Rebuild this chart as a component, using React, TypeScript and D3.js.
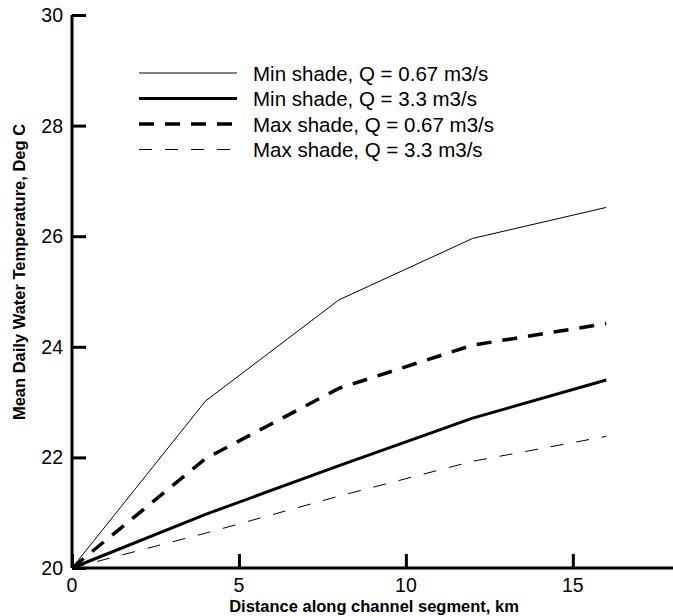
import { useEffect, useRef } from "react"
import * as d3 from "d3"

const distance = [0, 4, 8, 12, 16]
const minShadeLow = [20, 23.02, 24.85, 25.96, 26.52]
const minShadeHigh = [20, 20.97, 21.85, 22.71, 23.4]
const maxShadeLow = [20, 21.98, 23.25, 24.03, 24.42]
const maxShadeHigh = [20, 20.63, 21.3, 21.93, 22.38]
const seriesNames = [
  "Min shade, Q = 0.67 m3/s",
  "Min shade, Q = 3.3 m3/s",
  "Max shade, Q = 0.67 m3/s",
  "Max shade, Q = 3.3 m3/s",
]
const xTicks = [0, 5, 10, 15]
const yTicks = [20, 22, 24, 26, 28, 30]

const styles = [
  { width: 1, dash: null },
  { width: 3, dash: null },
  { width: 3.5, dash: "15,11" },
  { width: 1, dash: "13,13" },
]

const App = () => {
  const svgRef = useRef<SVGSVGElement>(null)

  useEffect(() => {
    const svg = d3.select(svgRef.current)
    svg.selectAll("*").remove()

    const x = d3.scaleLinear().domain([0, 18]).range([72, 673])
    const y = d3.scaleLinear().domain([20, 30]).range([568, 15])
    const font = "'Liberation Sans', Arial, sans-serif"

    const allSeries = [minShadeLow, minShadeHigh, maxShadeLow, maxShadeHigh]

    const line = d3
      .line<number>()
      .x((_, i) => x(distance[i]))
      .y((d) => y(d))

    allSeries.forEach((s, i) => {
      const p = svg
        .append("path")
        .datum(s)
        .attr("fill", "none")
        .attr("stroke", "black")
        .attr("stroke-width", styles[i].width)
        .attr("stroke-linejoin", "round")
        .attr("d", line)
      if (styles[i].dash) p.attr("stroke-dasharray", styles[i].dash)
    })

    // axes, ticks pointing inward
    const xAxis = svg
      .append("g")
      .attr("transform", `translate(0,${y(20)})`)
      .call(d3.axisTop(x).tickValues(xTicks).tickSize(14).tickFormat(() => ""))
    xAxis.select(".domain").attr("stroke-width", 3).attr("d", `M${x(0)},0H${x(18)}`)
    xAxis.selectAll(".tick line").attr("stroke-width", 3)

    const yAxis = svg
      .append("g")
      .attr("transform", `translate(${x(0)},0)`)
      .call(d3.axisRight(y).tickValues(yTicks).tickSize(14).tickFormat(() => ""))
    yAxis.select(".domain").attr("stroke-width", 3).attr("d", `M0,${y(30)}V${y(20)}`)
    yAxis.selectAll(".tick line").attr("stroke-width", 3)

    svg
      .append("g")
      .selectAll("text")
      .data(xTicks)
      .join("text")
      .attr("x", (d) => x(d))
      .attr("y", y(20) + 24)
      .attr("text-anchor", "middle")
      .style("font-family", font)
      .style("font-size", "19.5px")
      .text((d) => d)

    svg
      .append("g")
      .selectAll("text")
      .data(yTicks)
      .join("text")
      .attr("x", x(0) - 9)
      .attr("y", (d) => y(d) + 7)
      .attr("text-anchor", "end")
      .style("font-family", font)
      .style("font-size", "19.5px")
      .text((d) => d)

    svg
      .append("text")
      .attr("x", 374)
      .attr("y", 612)
      .attr("text-anchor", "middle")
      .style("font-family", font)
      .style("font-size", "16.5px")
      .style("font-weight", "bold")
      .text("Distance along channel segment, km")

    svg
      .append("text")
      .attr("transform", `translate(25,272) rotate(-90)`)
      .attr("text-anchor", "middle")
      .style("font-family", font)
      .style("font-size", "16.5px")
      .style("font-weight", "bold")
      .text("Mean Daily Water Temperature, Deg C")

    // legend
    const legend = svg.append("g")
    seriesNames.forEach((name, i) => {
      const ly = 73 + i * 25.5
      const l = legend
        .append("line")
        .attr("x1", 139)
        .attr("x2", 237)
        .attr("y1", ly)
        .attr("y2", ly)
        .attr("stroke", "black")
        .attr("stroke-width", styles[i].width)
      if (styles[i].dash) l.attr("stroke-dasharray", styles[i].dash)
      legend
        .append("text")
        .attr("x", 253)
        .attr("y", ly + 7.5)
        .style("font-family", font)
        .style("font-size", "20.5px")
        .text(name)
    })
  }, [])

  return (
    <svg
      ref={svgRef}
      width={673}
      height={616}
      style={{ position: "absolute", left: 0, top: 0, display: "block" }}
    ></svg>
  )
}

export default App
